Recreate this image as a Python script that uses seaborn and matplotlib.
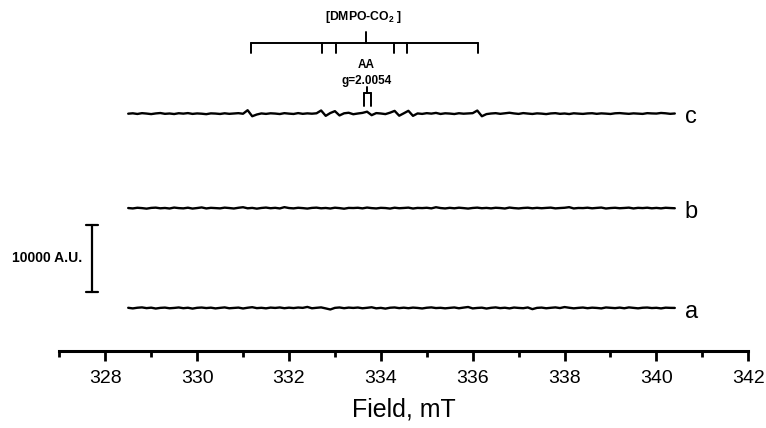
import numpy as np
import pandas as pd
import matplotlib
matplotlib.use("Agg")
import matplotlib.pyplot as plt
import seaborn as sns
from matplotlib.ticker import MultipleLocator

sns.set_theme(style="white")
plt.rcParams['font.family'] = ['Liberation Sans', 'DejaVu Sans']
plt.rcParams['mathtext.fontset'] = 'custom'
plt.rcParams['mathtext.bf'] = 'Liberation Sans:bold'
plt.rcParams['mathtext.rm'] = 'Liberation Sans'
plt.rcParams['text.color'] = 'black'
plt.rcParams['axes.labelcolor'] = 'black'
plt.rcParams['xtick.color'] = 'black'

# ---- data ----
field_start, field_step, n_points = 328.5, 0.1, 120
field = np.round(field_start + field_step * np.arange(n_points), 2)

trace_a = [ 30,-60, 40, 90,-20, 50,-80, 20, 60,-40,
            10, 80,-30, 40,-90, 30, 70,-10, 50,-60,
            20, 90,-40, 10, 60,-70, 40,120,-20, 30,
           -50, 60, 10, 80,-30, 50,-10, 70, 20,160,
           -40, 30, 90,-60,-220, 20, 80,-30, 60, 10,
            70,-40, 30,110,-50, 20,-90, 40, 80,-20,
            50,-30, 60, 10,-70, 40, 90,-10, 30,-50,
            20, 80,-40, 60,150,-60, 10, 50,-80, 30,
            90,-20, 40,-60, 70, 10,-30, 80,-170, 20,
            60,-40, 30, 90,-10,140, 40,-50, 20, 70,
           -30, 50, 10,-60, 80, 30,-20, 60,-40, 90,
            20,-50, 40, 70,-10, 30,-60, 50, 20, 10]

trace_b = [ 20,-40, 60, 10,-70, 40, 80,-20, 30,-50,
            90, 10,-30, 70,-60, 20,110,-40, 50, 10,
           -30, 80, 20,-50, 60,140,-20, 40,-70, 30,
            90,-10, 50,-40,150, 20,-30, 60, 10,-60,
            40, 80,-20, 30,-50, 70, 10,-80, 40, 20,
            60,-30, 90, 10,-40, 50, 20,-60, 70,-10,
            30, 80,-50, 40, 10, 60,-30,140, 20,-40,
            50,-20, 70, 10,-60, 30, 80,-10, 40,-30,
            60, 20,-50, 90, 10,-40, 30, 70,-20, 50,
           -10, 40, 80,-30, 20, 60,150,-40, 30, 10,
            70,-20, 40, 90,-50, 20, 60,-10, 30, 80,
           -40, 50, 10, 70,-20, 40,-30, 60, 20,-10]

trace_c = [  0, 60,-40, 80, 20,-60, 40,100,-20, 30,
           -50, 70, 10, 90,-30, 40,  0,-70, 50, 20,
           -40, 60,-20, 30, 80,-10,520,-380,-120, 40,
           -30, 60, 20,-50, 80, 10,-40, 90,-20, 50,
             0, 60,480,-320,100,380,-260, 60,140,-80,
            30,120,300,-220, 90, 30,-60,150,420,-300,
            60,430,-320, 40,-30, 80, 10,120,-40, 60,
            20,-50, 70,  0, 40, 80,470,-380,-60, 30,
            80,-20, 60,140, 40,-30, 90, 20,-40, 50,
            10,-60, 40, 80,-20, 30,-50, 60, 10,-30,
            40, 70,-20, 50, 10,-40, 60, 90, 30,-20,
            50, 10,-30, 80, 40, 20,110, 60,-20, 30]

offsets = {"a": 0, "b": 14900, "c": 29000}
traces = {"a": trace_a, "b": trace_b, "c": trace_c}

dmpo_lines = [331.17, 332.73, 333.02, 334.29, 334.56, 336.12]
dmpo_center = 333.67
aa_lines = [333.63, 333.78]
aa_center = 333.70

scale_field = 327.71
scale_low, scale_high = 2400, 12400

frames = []
for key in ["a", "b", "c"]:
    frames.append(pd.DataFrame({"field": field,
                                "signal": np.array(traces[key]) + offsets[key],
                                "trace": key}))
df = pd.concat(frames, ignore_index=True)

# ---- figure ----
fig = plt.figure(figsize=(7.66, 4.28), dpi=100)
ax = fig.add_axes([59.3 / 766, (428 - 351) / 428, 689 / 766, 351 / 428])

for key in ["a", "b", "c"]:
    sns.lineplot(data=df[df["trace"] == key], x="field", y="signal",
                 color="black", lw=1.7, ax=ax, legend=False, estimator=None)
    ax.text(340.62, offsets[key] - 1450, key, fontsize=17,
            ha="left", va="baseline")

# scale bar
ax.plot([scale_field, scale_field], [scale_low, scale_high], color="black", lw=1.6)
for yv in (scale_low, scale_high):
    ax.plot([scale_field - 0.13, scale_field + 0.13], [yv, yv], color="black", lw=1.6)
ax.text(scale_field - 0.22, (scale_low + scale_high) / 2, "10000 A.U.",
        fontsize=10, fontweight="bold", ha="right", va="center")

# DMPO-CO2 stick diagram
y_bar, y_tick, y_up = 39600, 38100, 41250
ax.plot([dmpo_lines[0], dmpo_lines[-1]], [y_bar, y_bar], color="black", lw=1.4)
for f in dmpo_lines:
    ax.plot([f, f], [y_bar, y_tick], color="black", lw=1.4)
ax.plot([dmpo_center, dmpo_center], [y_bar, y_up], color="black", lw=1.4)
ax.text(dmpo_center - 0.05, 43400, r"[DMPO-CO$_\mathbf{2}$ ]", fontsize=8.8,
        fontweight="bold", ha="center", va="center")

# AA stick
ya_top, ya_bar, ya_bot = 33000, 32100, 30150
ax.plot([aa_center, aa_center], [ya_top, ya_bar], color="black", lw=1.4)
ax.plot(aa_lines, [ya_bar, ya_bar], color="black", lw=1.4)
for f in aa_lines:
    ax.plot([f, f], [ya_bar, ya_bot], color="black", lw=1.4)
ax.text(aa_center - 0.02, 36300, "AA", fontsize=8.5, fontweight="bold",
        ha="center", va="center")
ax.text(aa_center - 0.02, 33500, "g=2.0054", fontsize=8.5, fontweight="bold",
        ha="center", va="baseline")

# axes styling
ax.set_xlim(327, 342)
ax.set_ylim(-6418, 45970)
for s in ["left", "top", "right"]:
    ax.spines[s].set_visible(False)
ax.spines["bottom"].set_linewidth(2.2)
ax.spines["bottom"].set_color("black")
ax.set_yticks([])
ax.xaxis.set_major_locator(MultipleLocator(2))
ax.xaxis.set_minor_locator(MultipleLocator(1))
ax.tick_params(axis="x", which="major", direction="out", length=7.5, width=2,
               labelsize=14, pad=6, colors="black", bottom=True)
ax.tick_params(axis="x", which="minor", direction="out", length=4, width=2,
               bottom=True, colors="black")
ax.set_xticks(np.arange(328, 343, 2))
ax.set_xlabel("Field, mT", fontsize=18, labelpad=8, color="black")
ax.set_ylabel("")
ax.patch.set_alpha(0)

fig.savefig("out.png", dpi=100)
